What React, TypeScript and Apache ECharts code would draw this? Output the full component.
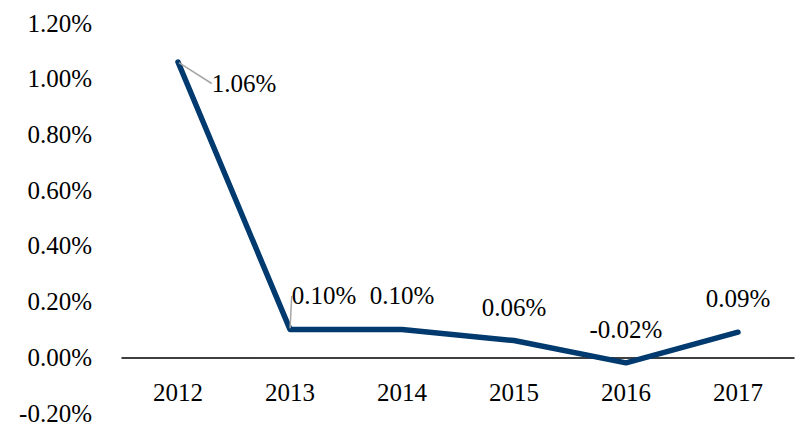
import React, { useEffect, useRef } from "react";
import * as echarts from "echarts";

const categories = ["2012", "2013", "2014", "2015", "2016", "2017"];
const values = [1.06, 0.1, 0.1, 0.06, -0.02, 0.09];
const yMin = -0.2;
const yMax = 1.2;
const yStep = 0.2;

const FONT = "'Liberation Serif', serif";

export default function App() {
  const ref = useRef<HTMLDivElement>(null);
  useEffect(() => {
    if (!ref.current) return;
    const chart = echarts.init(ref.current, undefined, { renderer: "svg" });
    chart.setOption({
      animation: false,
      grid: { left: 122, right: 6, top: 23, bottom: 12, containLabel: false, outerBoundsMode: "none" },
      xAxis: {
        type: "category",
        data: categories,
        boundaryGap: true,
        axisLine: { onZero: true, lineStyle: { color: "#000", width: 1.5 } },
        axisTick: { show: false },
        axisLabel: { color: "#000", fontFamily: FONT, fontSize: 25, margin: -33 },
        splitLine: { show: false },
      },
      yAxis: {
        type: "value",
        min: yMin,
        max: yMax,
        interval: yStep,
        axisLine: { show: false },
        axisTick: { show: false },
        splitLine: { show: false },
        axisLabel: {
          color: "#000",
          fontFamily: FONT,
          fontSize: 25,
          margin: 30,
          formatter: (v: number) => v.toFixed(2) + "%",
        },
      },
      series: [
        {
          type: "line",
          data: values.map((v, i) =>
            i < 2
              ? { value: v, labelLine: { show: true, lineStyle: { color: "#a6a6a6", width: 1.5 } } }
              : { value: v }
          ),
          symbol: "circle",
          symbolSize: 2,
          showSymbol: true,
          itemStyle: { color: "#003a6e" },
          lineStyle: { color: "#003a6e", width: 5.5, cap: "round", join: "round" },
          label: {
            show: true,
            position: "top",
            distance: 20,
            color: "#000",
            fontFamily: FONT,
            fontSize: 25,
            formatter: (p: any) => Number(p.value).toFixed(2) + "%",
          },
          labelLayout: (p: any) => {
            if (p.dataIndex === 0) return { dx: 66, dy: 55 };
            if (p.dataIndex === 1) return { dx: 34, dy: 0 };
            return {};
          },
          emphasis: { disabled: true },
        },
      ],
    });
    return () => chart.dispose();
  }, []);
  return (
    <div
      ref={ref}
      style={{ position: "fixed", left: 0, top: 0, width: 800, height: 425, background: "#fff" }}
    />
  );
}
